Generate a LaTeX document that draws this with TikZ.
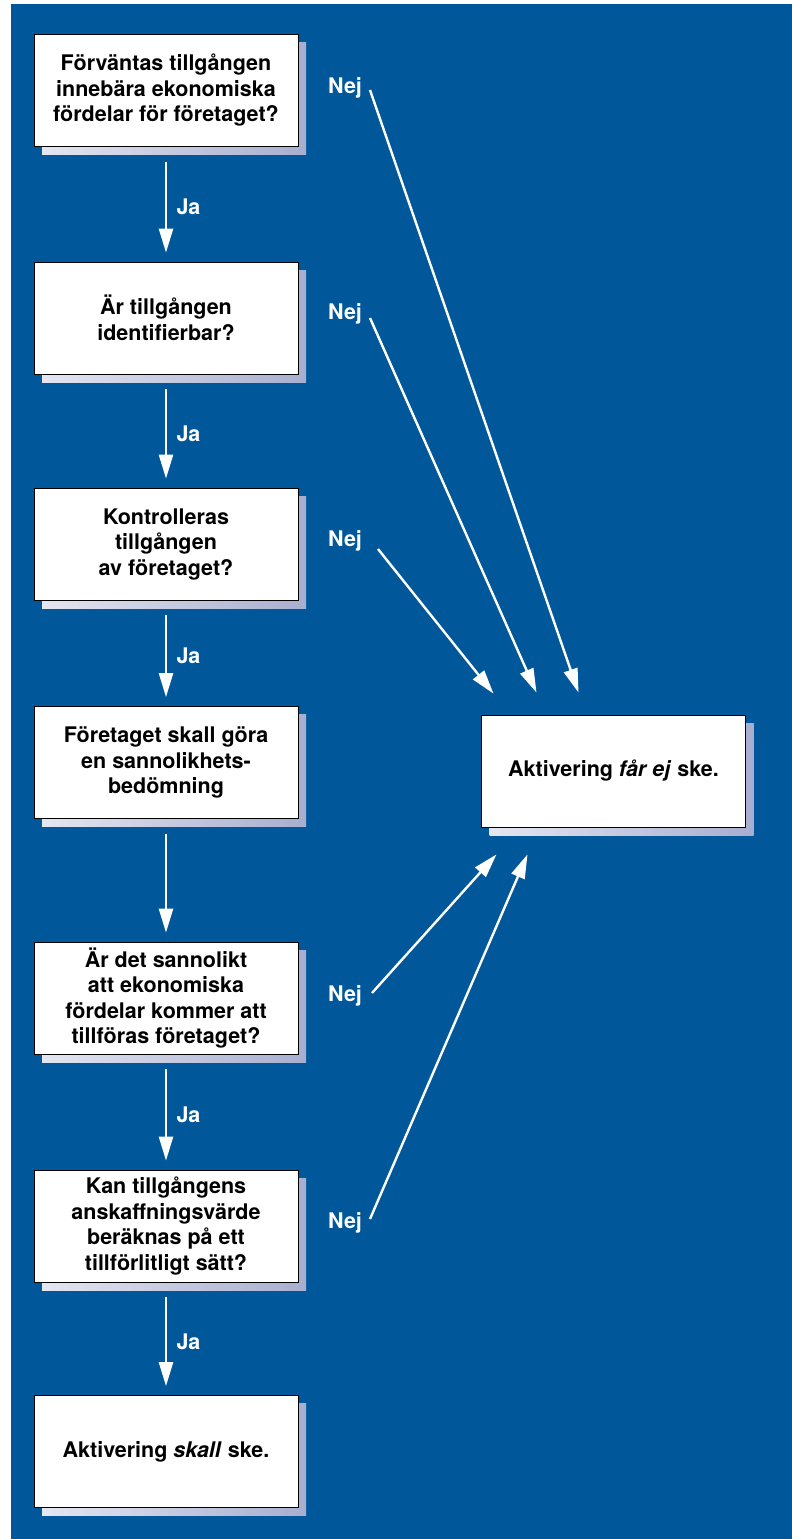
\documentclass[tikz,border=0pt]{standalone}
\usepackage{fontspec}
\setmainfont{TeX Gyre Heros}
\usetikzlibrary{arrows.meta,shadows}

\definecolor{bgblue}{RGB}{0,88,154}
\definecolor{shadelight}{RGB}{228,230,240}
\definecolor{shadedark}{RGB}{168,174,208}

\tikzstyle{question} = [draw=black, line width=0.8pt, fill=white, minimum width=264pt, minimum height=112pt, align=center, font=\bfseries\fontsize{21.5}{25.5}\selectfont, drop shadow={shadow xshift=8pt, shadow yshift=-8pt, opacity=1, left color=shadelight, right color=shadedark}]
\tikzstyle{flow} = [draw=white, line width=2.4pt, -{Triangle[length=24pt,width=14pt]}]
\tikzstyle{answer} = [text=white, font=\bfseries\fontsize{21.5}{25}\selectfont]

\begin{document}
\begin{tikzpicture}[x=1pt,y=-1pt]
       \useasboundingbox (0,0) rectangle (792,1539);
       \fill[bgblue] (11,4) rectangle (792,1539);

       % question boxes
       \node[question] (b1) at (166,90.5) {Förväntas tillgången\\innebära ekonomiska\\fördelar för företaget?};
       \node[question] (b2) at (166,318) {Är tillgången\\identifierbar?};
       \node[question] (b3) at (166,544) {Kontrolleras\\tillgången\\av företaget?};
       \node[question] (b4) at (166,762.5) {Företaget skall göra\\en sannolikhets-\\bedömning};
       \node[question] (b5) at (166,998) {Är det sannolikt\\att ekonomiska\\fördelar kommer att\\tillföras företaget?};
       \node[question] (b6) at (166,1226) {Kan tillgångens\\anskaffningsvärde\\beräknas på ett\\tillförlitligt sätt?};
       \node[question] (b7) at (166,1451.5) {Aktivering \textit{skall} ske.};
       \node[question] (no) at (613.5,771) {Aktivering \textit{får ej} ske.};

       % Ja
       \foreach \source/\sink/\lab in {b1/b2/Ja, b2/b3/Ja, b3/b4/Ja, b4/b5/, b5/b6/Ja, b6/b7/Ja} {
           \draw[flow] ([yshift=-15pt]\source.south) -- ([yshift=9pt]\sink.north) node[answer, midway, right=6pt] {\lab};
       }

       % Nej
       \foreach \pos/\name in {{(345,88)/n1}, {(345,314)/n2}, {(345,541)/n3}, {(345,996)/n4}, {(345,1223)/n5}} {
           \node[answer] (\name) at \pos {Nej};
       }
       \coordinate (s1) at (370,90);
       \coordinate (s2) at (370,318);
       \coordinate (s3) at (378,549);
       \coordinate (s4) at (372,993);
       \coordinate (s5) at (370,1219);
       \coordinate (t1) at ([xshift=-35pt,yshift=22pt]no.north);
       \coordinate (t2) at ([xshift=-77pt,yshift=22pt]no.north);
       \coordinate (t3) at ([xshift=-120pt,yshift=21pt]no.north);
       \coordinate (t4) at ([xshift=-117pt,yshift=-27pt]no.south);
       \coordinate (t5) at ([xshift=-86pt,yshift=-27pt]no.south);
       \foreach \source/\sink in {s1/t1, s2/t2, s3/t3, s4/t4, s5/t5} {
           \draw[flow] (\source) -- (\sink);
       }
\end{tikzpicture}
\end{document}
